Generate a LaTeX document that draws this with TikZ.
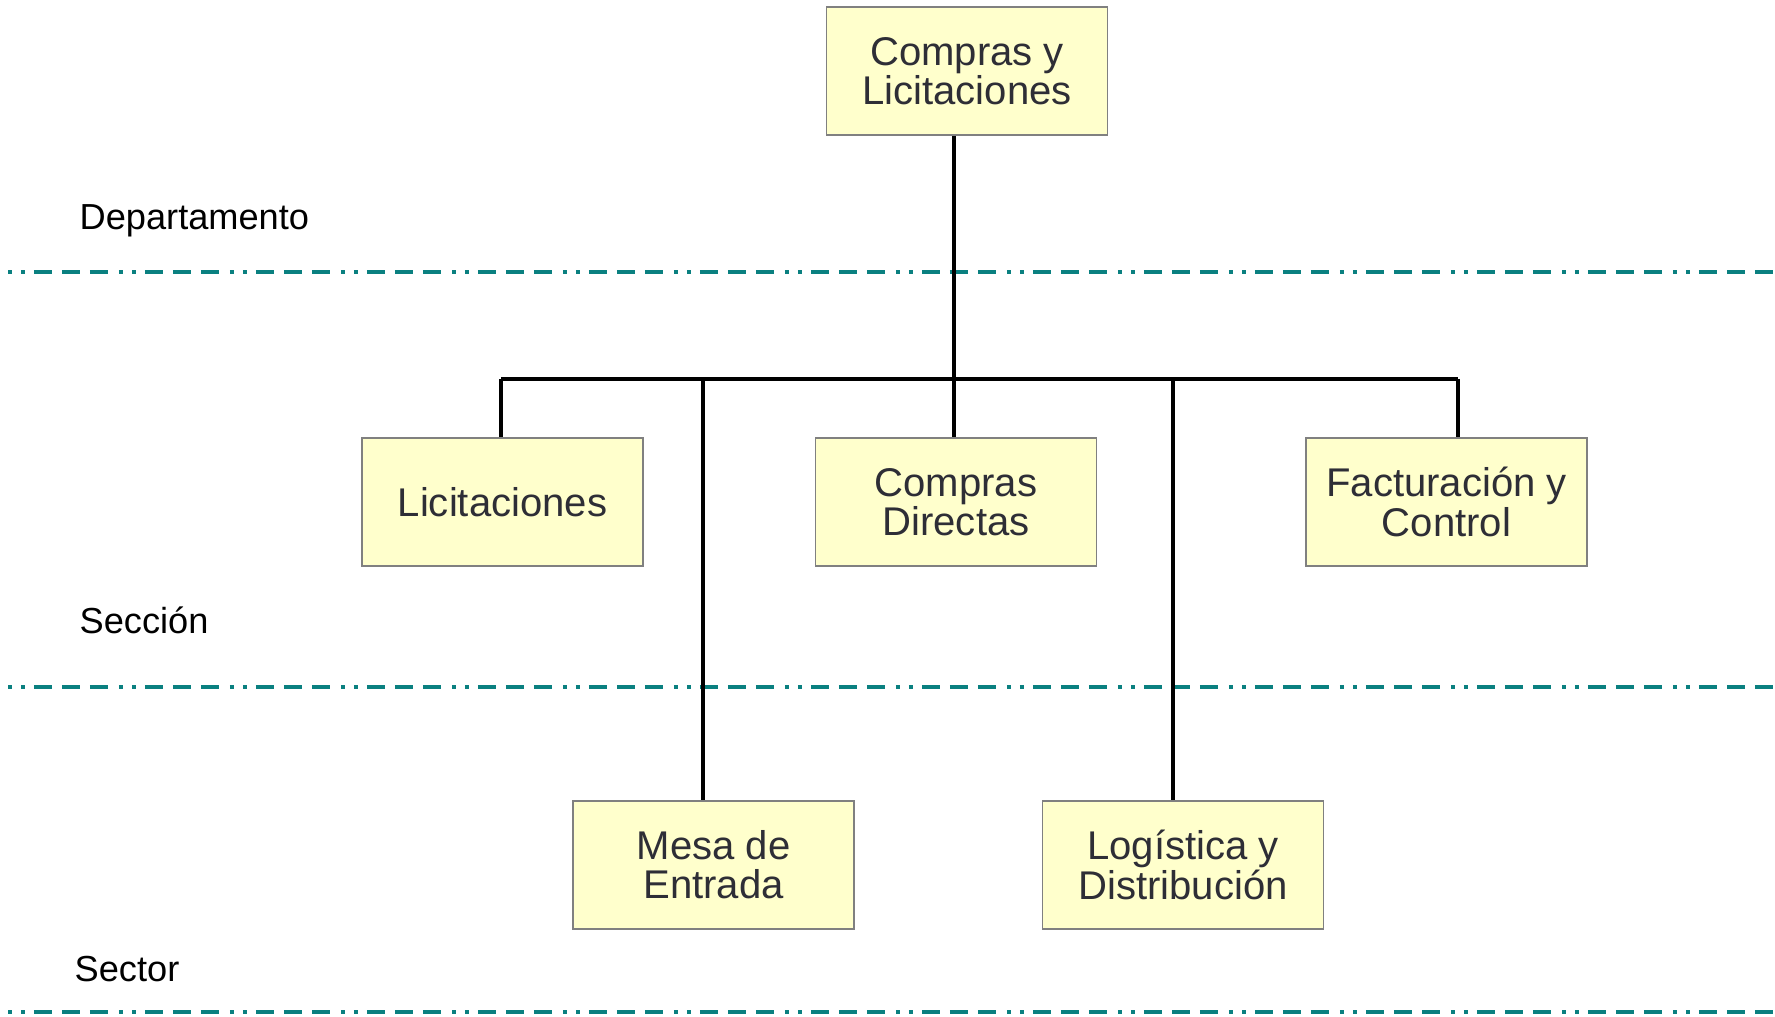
\documentclass[tikz,border=0pt]{standalone}
\usepackage{fontspec}
\setmainfont{Liberation Sans}
\usepackage{xcolor}
\usetikzlibrary{calc}

\definecolor{boxfill}{HTML}{FFFFCC}
\definecolor{boxline}{HTML}{808080}
\definecolor{boxtext}{HTML}{2E2E36}
\definecolor{levelline}{HTML}{0A8080}

\tikzset{
  unit/.style={draw=boxline, fill=boxfill, line width=0.5pt,
    minimum width=2.81cm, minimum height=1.28cm, inner sep=0pt,
    align=center, text=boxtext, font=\fontsize{11.4}{11.2}\selectfont},
  level/.style={anchor=west, inner sep=0pt, font=\fontsize{10.3}{12}\selectfont},
  link/.style={line width=1.2pt},
  divider/.style={levelline, line width=1.2pt,
    dash pattern=on 0.04cm off 0.09cm on 0.04cm off 0.09cm on 0.18cm off 0.10cm on 0.18cm off 0.10cm on 0.18cm off 0.11cm}
}

\begin{document}
\begin{tikzpicture}
  \useasboundingbox (0,0) rectangle (17.75,10.17);

  % Level dividers
  \draw[divider] (0.08,7.45) -- (17.75,7.45);
  \draw[divider] (0.08,3.30) -- (17.75,3.30);
  \draw[divider] (0.08,0.05) -- (17.75,0.05);

  % Level labels
  \node[level] (dep) at (0.79,7.96) {Departamento};
  \node[level] (sec) at (0.79,3.97) {Sección};
  \node[level] (sct) at (0.74,0.48) {Sector};

  % Department
  \node[unit] (top) at (9.67,9.46) {Compras y\\Licitaciones};

  % Sections
  \node[unit] (lic) at (5.025,5.15) {Licitaciones};
  \node[unit] (cd) at (9.56,5.15) {Compras\\Directas};
  \node[unit] (fac) at (14.465,5.15) {Facturación y\\Control};

  % Sectors
  \node[unit] (mesa) at (7.135,1.52) {Mesa de\\Entrada};
  \node[unit] (log) at (11.83,1.52) {Logística y\\Distribución};

  % Bus points
  \coordinate (bl) at (5.01,6.38);
  \coordinate (bm) at (7.03,6.38);
  \coordinate (bc) at (9.54,6.38);
  \coordinate (bg) at (11.73,6.38);
  \coordinate (br) at (14.58,6.38);

  % Connectors
  \draw[link] (top.south -| bc) -- (bc |- cd.north);
  \draw[link] (bl) -- (br);
  \draw[link] (bl) -- (bl |- lic.north);
  \draw[link] (br) -- (br |- fac.north);
  \draw[link] (bm) -- (bm |- mesa.north);
  \draw[link] (bg) -- (bg |- log.north);
\end{tikzpicture}
\end{document}
